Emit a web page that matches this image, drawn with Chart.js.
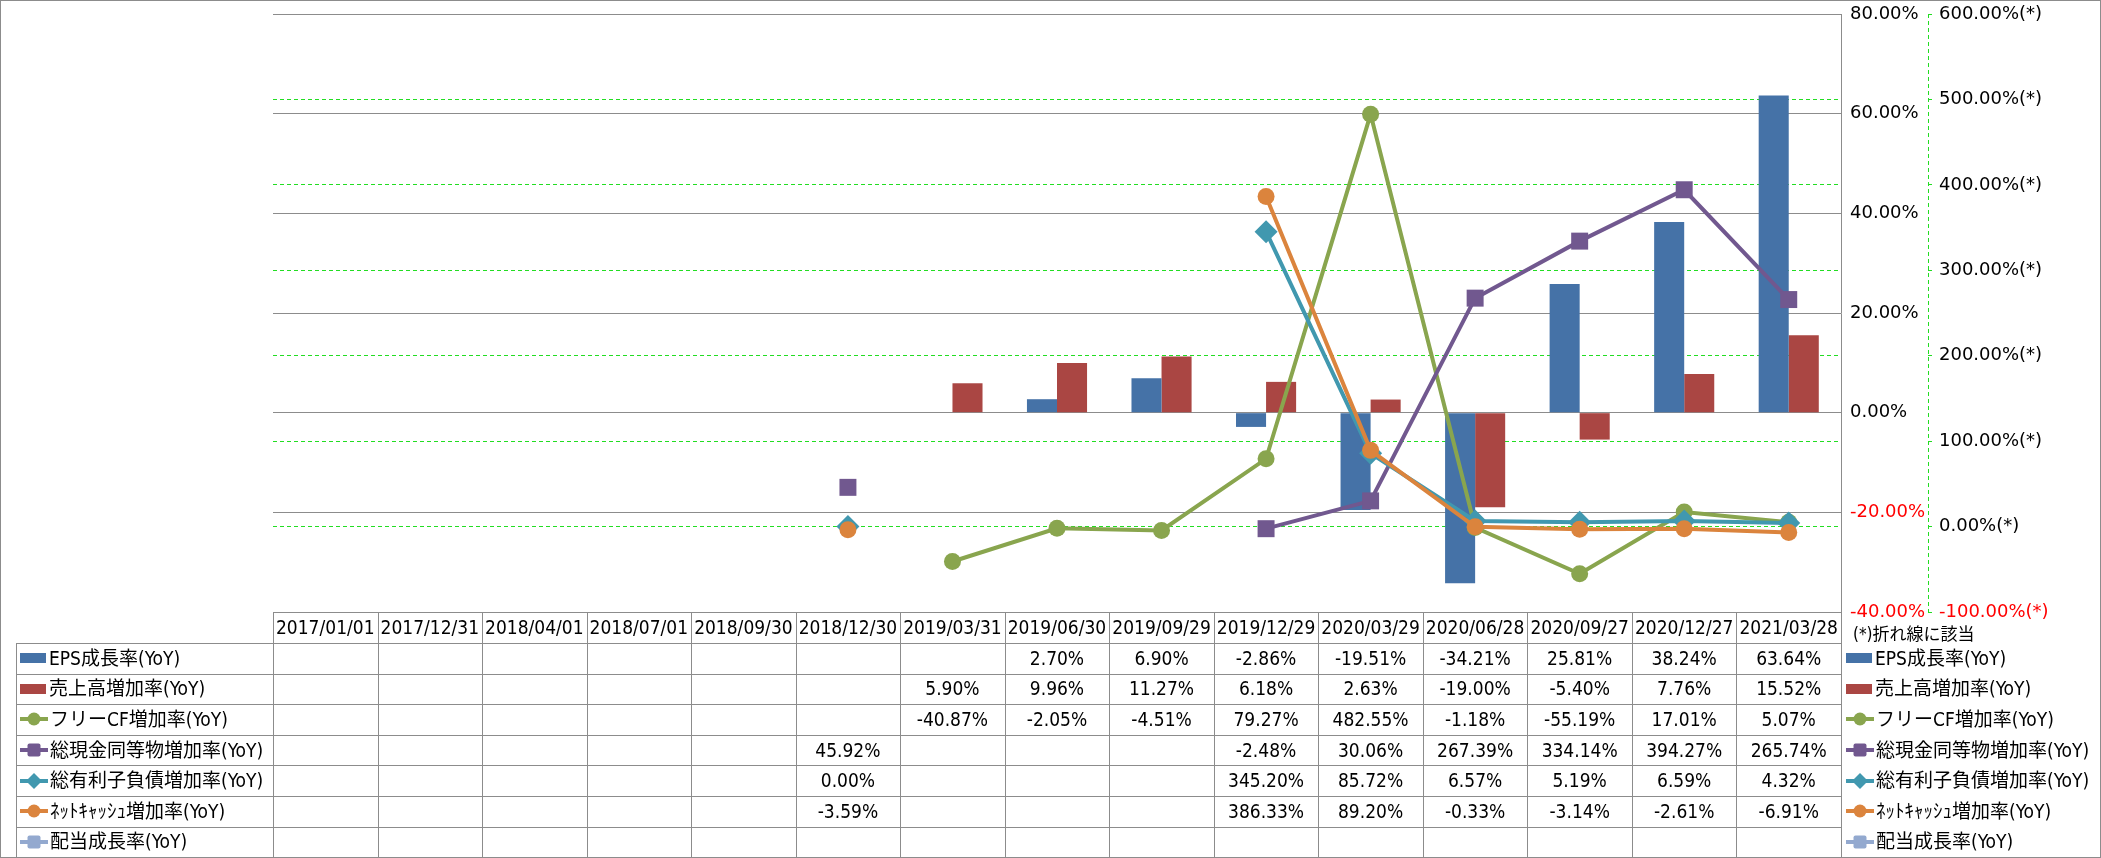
<!DOCTYPE html>
<html>
<head>
<meta charset="utf-8">
<script src="https://cdn.jsdelivr.net/npm/chart.js@4.4.0/dist/chart.umd.min.js"></script>
<style>
  html, body { margin: 0; padding: 0; background: #fff; }
  #wrap { position: relative; width: 2101px; height: 858px; overflow: hidden; }
  #chart { position: absolute; left: 0; top: 0; }
  #frame { position: absolute; left: 0; top: 0; width: 2101px; height: 858px; box-sizing: border-box; border: 1px solid #8c8c8c; pointer-events: none; }
  .ln { position: absolute; background: #8c8c8c; }
  .cell { position: absolute; display: flex; align-items: center; justify-content: center; white-space: nowrap;
          font-family: "DejaVu Sans Condensed", "DejaVu Sans", "Noto Sans CJK JP", sans-serif; font-stretch: condensed;
          font-size: 19px; color: #000; line-height: 1; }
  .leg { position: absolute; display: flex; align-items: center; white-space: nowrap;
         font-family: "DejaVu Sans Condensed", "DejaVu Sans", "Noto Sans CJK JP", sans-serif; font-stretch: condensed;
         font-size: 19px; color: #000; line-height: 1; }
  .leg svg { margin-right: 2px; flex: none; }
  #note { position: absolute; left: 1853px; top: 626px; font-family: "DejaVu Sans Condensed", "Noto Sans CJK JP", sans-serif; font-size: 17px; line-height: 1; white-space: nowrap; }
</style>
</head>
<body>
<div id="wrap">
  <canvas id="chart" width="2101" height="858"></canvas>
  <div id="table"></div>
  <div id="note">(*)折れ線に該当</div>
  <div id="frame"></div>
</div>
<script>
// periods (x categories)
const labels = ['2017/01/01', '2017/12/31', '2018/04/01', '2018/07/01', '2018/09/30', '2018/12/30', '2019/03/31',
  '2019/06/30', '2019/09/29', '2019/12/29', '2020/03/29', '2020/06/28', '2020/09/27', '2020/12/27', '2021/03/28'];

// bars, left axis (%)
const epsGrowth   = [null, null, null, null, null, null, null, 2.70, 6.90, -2.86, -19.51, -34.21, 25.81, 38.24, 63.64];
const salesGrowth = [null, null, null, null, null, null, 5.90, 9.96, 11.27, 6.18, 2.63, -19.00, -5.40, 7.76, 15.52];

// lines, right axis (%)
const freeCfGrowth  = [null, null, null, null, null, null, -40.87, -2.05, -4.51, 79.27, 482.55, -1.18, -55.19, 17.01, 5.07];
const cashGrowth    = [null, null, null, null, null, 45.92, null, null, null, -2.48, 30.06, 267.39, 334.14, 394.27, 265.74];
const debtGrowth    = [null, null, null, null, null, 0.00, null, null, null, 345.20, 85.72, 6.57, 5.19, 6.59, 4.32];
const netCashGrowth = [null, null, null, null, null, -3.59, null, null, null, 386.33, 89.20, -0.33, -3.14, -2.61, -6.91];
const dividendGrowth = [null, null, null, null, null, null, null, null, null, null, null, null, null, null, null];

// axis ticks
const leftTicks  = { min: -40, max: 80, step: 20 };
const rightTicks = { min: -100, max: 600, step: 100 };

const series = [
  { name: 'EPS成長率(YoY)',        data: epsGrowth,      color: '#4572A7', kind: 'bar' },
  { name: '売上高増加率(YoY)',      data: salesGrowth,    color: '#AA4643', kind: 'bar' },
  { name: 'フリーCF増加率(YoY)',    data: freeCfGrowth,   color: '#89A54E', kind: 'line', shape: 'circle',  r: 8.5 },
  { name: '総現金同等物増加率(YoY)', data: cashGrowth,     color: '#71588F', kind: 'line', shape: 'rect',    r: 12 },
  { name: '総有利子負債増加率(YoY)', data: debtGrowth,     color: '#4198AF', kind: 'line', shape: 'rectRot', r: 11.5 },
  { name: 'ﾈｯﾄｷｬｯｼｭ増加率(YoY)',   data: netCashGrowth,  color: '#DB843D', kind: 'line', shape: 'circle',  r: 8.5 },
  { name: '配当成長率(YoY)',        data: dividendGrowth, color: '#93A9CF', kind: 'line', shape: 'rect',    r: 12 }
];

const lineOrder = { 'フリーCF増加率(YoY)': 4, '総現金同等物増加率(YoY)': 3, '総有利子負債増加率(YoY)': 2, 'ﾈｯﾄｷｬｯｼｭ増加率(YoY)': 1, '配当成長率(YoY)': 0 };

const datasets = series.map(s => s.kind === 'bar' ? {
  type: 'bar', label: s.name, data: s.data, yAxisID: 'y',
  backgroundColor: s.color, borderWidth: 0,
  barPercentage: 1.0, categoryPercentage: 0.575, order: 10
} : {
  type: 'line', label: s.name, data: s.data, yAxisID: 'y2',
  borderColor: s.color, backgroundColor: s.color, borderWidth: 4,
  pointStyle: s.shape, pointRadius: s.r, pointBorderWidth: 0,
  pointBackgroundColor: s.color, spanGaps: false, tension: 0, order: lineOrder[s.name]
});

const tickFont = { family: 'DejaVu Sans', size: 18 };
const green = '#22DD22';

const dashedAxis = {
  id: 'dashedAxis',
  afterDraw(chart) {
    const s = chart.scales.y2;
    const c = chart.ctx;
    c.save();
    c.strokeStyle = green;
    c.lineWidth = 1;
    c.setLineDash([4, 3]);
    c.beginPath();
    c.moveTo(s.left + 0.5, s.top);
    c.lineTo(s.left + 0.5, s.bottom);
    c.stroke();
    c.restore();
  }
};

// fixed axis box widths; no extra label padding at the ends
const fitAxis = w => s => { s.width = w; s.paddingTop = 0; s.paddingBottom = 0; };

const chart = new Chart(document.getElementById('chart').getContext('2d'), {
  data: { labels: labels, datasets: datasets },
  plugins: [dashedAxis],
  options: {
    responsive: false,
    animation: false,
    layout: { padding: { left: 273, top: 14, right: 31, bottom: 246 } },
    plugins: { legend: { display: false }, tooltip: { enabled: false } },
    scales: {
      x: { type: 'category', display: false, offset: true, grid: { display: false } },
      y: {
        position: 'right', weight: 0,
        min: leftTicks.min, max: leftTicks.max,
        afterFit: fitAxis(87),
        ticks: {
          stepSize: leftTicks.step, padding: 9, font: tickFont,
          color: c => c.tick.value < 0 ? '#FF0000' : '#000000',
          callback: v => v.toFixed(2) + '%'
        },
        grid: { color: '#8c8c8c', lineWidth: 1, drawTicks: false },
        border: { display: true, color: '#8c8c8c', width: 1 }
      },
      y2: {
        position: 'right', weight: 1,
        min: rightTicks.min, max: rightTicks.max,
        afterFit: fitAxis(142),
        ticks: {
          stepSize: rightTicks.step, padding: 7, font: tickFont,
          color: c => c.tick.value < 0 ? '#FF0000' : '#000000',
          callback: v => v.toFixed(2) + '%(*)'
        },
        grid: {
          drawOnChartArea: true, drawTicks: true, tickLength: 4, tickColor: green, lineWidth: 1,
          color: c => (c.tick && (c.tick.value === rightTicks.min || c.tick.value === rightTicks.max)) ? 'rgba(0,0,0,0)' : green
        },
        border: { display: false, dash: [4, 3] }
      }
    }
  }
});

// ---- data table + legends below the plot ----
const table = document.getElementById('table');
const area = chart.chartArea;
const xs = chart.scales.x;
const colW = (area.right - area.left) / labels.length;
const legLeft = 16;
const headTop = Math.round(area.bottom);
const headH = 31;
const rowH = 30.6;
const bodyTop = headTop + headH;

function add(html) { table.insertAdjacentHTML('beforeend', html); }
function hline(x1, x2, y) { add(`<div class="ln" style="left:${x1}px;top:${Math.round(y)}px;width:${x2 - x1 + 1}px;height:1px"></div>`); }
function vline(x, y1, y2) { add(`<div class="ln" style="left:${Math.round(x)}px;top:${y1}px;width:1px;height:${Math.round(y2 - y1)}px"></div>`); }

function marker(s) {
  if (s.kind === 'bar') {
    return `<svg width="27" height="12"><rect x="0" y="1" width="26" height="10" fill="${s.color}"/></svg>`;
  }
  let shape;
  if (s.shape === 'circle') shape = `<circle cx="14" cy="8" r="6.5" fill="${s.color}"/>`;
  else if (s.shape === 'rect') shape = `<rect x="7.5" y="1.5" width="13" height="13" rx="2" fill="${s.color}"/>`;
  else shape = `<polygon points="14,0 22,8 14,16 6,8" fill="${s.color}"/>`;
  return `<svg width="28" height="16"><line x1="0" y1="8" x2="28" y2="8" stroke="${s.color}" stroke-width="4"/>${shape}</svg>`;
}

const right = Math.round(area.right);
const left = Math.round(area.left);
const bottom = bodyTop + rowH * series.length;

// horizontal lines
hline(left, right, headTop);
for (let r = 0; r <= series.length; r++) hline(legLeft, right, bodyTop + rowH * r);
// vertical lines
vline(legLeft, bodyTop, bottom);
for (let i = 0; i <= labels.length; i++) vline(left + colW * i, headTop, bottom);

// header dates
labels.forEach((lab, i) => {
  const cx = xs.getPixelForValue(i);
  add(`<div class="cell" style="left:${cx - colW / 2}px;top:${headTop}px;width:${colW}px;height:${headH}px">${lab}</div>`);
});

// rows
series.forEach((s, r) => {
  const top = bodyTop + rowH * r;
  add(`<div class="leg" style="left:${legLeft + 4}px;top:${top}px;height:${rowH}px">${marker(s)}<span>${s.name}</span></div>`);
  s.data.forEach((v, i) => {
    if (v === null) return;
    const cx = xs.getPixelForValue(i);
    add(`<div class="cell" style="left:${cx - colW / 2}px;top:${top}px;width:${colW}px;height:${rowH}px">${v.toFixed(2)}%</div>`);
  });
  // right-side legend
  add(`<div class="leg" style="left:${right + 5}px;top:${top}px;height:${rowH}px">${marker(s)}<span>${s.name}</span></div>`);
});
</script>
</body>
</html>
